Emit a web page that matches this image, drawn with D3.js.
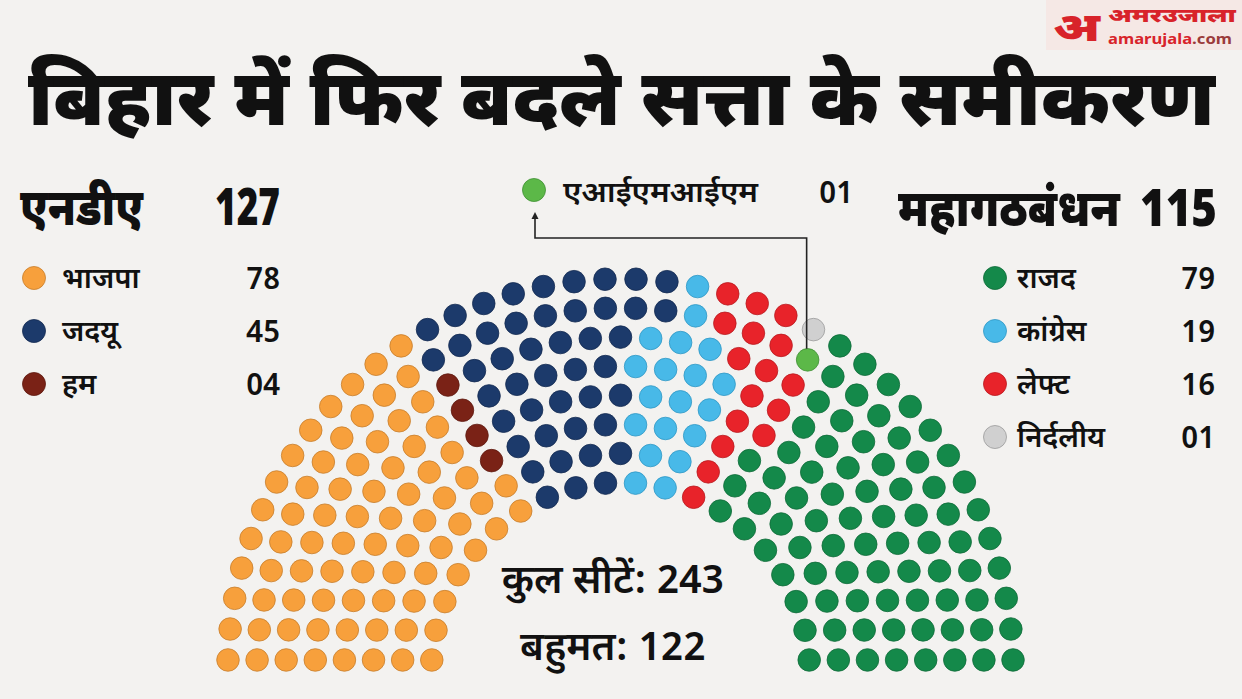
<!DOCTYPE html>
<html><head><meta charset="utf-8">
<script src="https://cdn.jsdelivr.net/npm/d3@7/dist/d3.min.js"></script>
<style>
html,body{margin:0;padding:0;background:#f3f2f0;}
svg{display:block;}
text{font-family:"Noto Sans Devanagari","Noto Sans",sans-serif;fill:#111;}
</style></head>
<body>
<svg id="chart" width="1242" height="699"></svg>
<script>
// ---------- DATA ----------
const partyNames  = ["भाजपा","हम","जदयू","कांग्रेस","लेफ्ट","निर्दलीय","एआईएमआईएम","राजद"];
const partySeats  = [78, 4, 45, 19, 16, 1, 1, 79];
const partyColors = ["#f7a03c","#7a2216","#1c3a6b","#48b9e8","#e8232a","#d0d0d0","#5cb848","#14894a"];
const partyStroke = ["#c77e2c","#5e190f","#132a50","#2e97c4","#b81a1f","#9a9a9a","#3f8f33","#0f6b39"];

// seats of each party in each arc row (row 1 = innermost ... row 8 = outermost)
const rowsBJP   = [7, 8, 8, 9, 10, 11, 12, 13];
const rowsHAM   = [0, 0, 1, 1, 1, 1, 0, 0];
const rowsJDU   = [3, 4, 4, 5, 5, 6, 9, 9];
const rowsINC   = [2, 2, 3, 3, 4, 3, 1, 1];
const rowsLEFT  = [1, 1, 1, 2, 2, 3, 3, 3];
const rowsIND   = [0, 0, 0, 0, 0, 0, 0, 1];
const rowsAIMIM = [0, 0, 0, 0, 0, 0, 1, 0];
const rowsRJD   = [7, 8, 9, 9, 10, 11, 12, 13];

const ndaLabel = "एनडीए",       ndaTotal = "127";
const ndaParties = ["भाजपा","जदयू","हम"];
const ndaValues  = ["78","45","04"];
const mgbLabel = "महागठबंधन",   mgbTotal = "115";
const mgbParties = ["राजद","कांग्रेस","लेफ्ट","निर्दलीय"];
const mgbValues  = ["79","19","16","01"];
const aimimParty = "एआईएमआईएम", aimimValue = "01";

const titleText = "बिहार में फिर बदले सत्ता के समीकरण";
const totalText = "कुल सीटें: 243";
const majorityText = "बहुमत: 122";

// ---------- SETUP ----------
const svg = d3.select("#chart");
svg.append("rect").attr("width",1242).attr("height",699).attr("fill","#f3f2f0");

const color  = d3.scaleOrdinal().domain(partyNames).range(partyColors);
const stroke = d3.scaleOrdinal().domain(partyNames).range(partyStroke);

// text fitted horizontally to a measured width (scaled, so its box stays true)
function fitText(parent, str, x, y, size, weight, width, anchor, fill){
  const t = parent.append("text").attr("font-size",size).attr("font-weight",weight).text(str);
  if(fill) t.style("fill",fill);
  const w = t.node().getComputedTextLength();
  const sx = width / w;
  const x0 = anchor==="end" ? x - width : x;
  t.attr("transform",`translate(${x0},${y}) scale(${sx},1)`);
  return t;
}

// ---------- PARLIAMENT LAYOUT ----------
const rowTable = [rowsBJP,rowsHAM,rowsJDU,rowsINC,rowsLEFT,rowsIND,rowsAIMIM,rowsRJD];
const nRows = rowsBJP.length;
const seatR = 0.4/nRows;
const pos = [];
for(let i=1;i<=nRows;i++){
  const R = (3*nRows+4*i-2)/(4*nRows);
  const counts = rowTable.map(a=>a[i-1]);
  const J = d3.sum(counts);
  const row = [];
  for(let j=0;j<J;j++){
    const a = j*(Math.PI-2*Math.sin(seatR/R))/(J-1)+Math.sin(seatR/R);
    row.push({a, x:R*Math.cos(a)+1.75, y:R*Math.sin(a), row:i});
  }
  row.sort((p,q)=>q.a-p.a); // left to right
  let k=0;
  counts.forEach((c,pi)=>{for(let n=0;n<c;n++) row[k++].party=partyNames[pi];});
  pos.push(...row);
}

const S = 232.7, CX = 620.5, CY = 671.6;
const xs = d3.scaleLinear().domain([0,3.5]).range([CX-1.75*S, CX+1.75*S]);
const ys = d3.scaleLinear().domain([0,1.75]).range([CY, CY-1.75*S]);
const rs = d3.scaleLinear().domain([0,1]).range([0,S]);

svg.append("g").selectAll("circle").data(pos).join("circle")
  .attr("cx",d=>xs(d.x)).attr("cy",d=>ys(d.y)).attr("r",rs(seatR)*0.97)
  .attr("fill",d=>color(d.party)).attr("stroke",d=>stroke(d.party)).attr("stroke-width",0.8);

// ---------- TITLE ----------
fitText(svg, titleText, 28, 125, 78, 900, 1187, "start");

// ---------- LOGO ----------
svg.append("rect").attr("x",1046).attr("y",0).attr("width",196).attr("height",50).attr("fill","#f5e8e5");
fitText(svg, "अ", 1053, 41, 40, 900, 47, "start", "#d8232a");
fitText(svg, "अमरउजाला", 1108, 22, 19, 900, 128, "start", "#d8232a");
const lt = svg.append("text").attr("x",1108).attr("y",44).attr("font-size",15).attr("font-weight",700)
  .attr("textLength",124).attr("lengthAdjust","spacingAndGlyphs");
lt.append("tspan").text("amarujala").style("fill","#d8232a");
lt.append("tspan").text(".com").style("fill","#9b3b3b");

// ---------- LEFT LEGEND ----------
fitText(svg, ndaLabel, 20, 225, 52, 900, 123, "start");
fitText(svg, ndaTotal, 280, 225, 52, 900, 65, "end");
const rowY = [278,331,384,437];
const lg = svg.append("g");
ndaParties.forEach((p,i)=>{
  lg.append("circle").attr("cx",34).attr("cy",rowY[i]).attr("r",11.5).attr("fill",color(p)).attr("stroke",stroke(p)).attr("stroke-width",0.8);
  lg.append("text").attr("x",62).attr("y",rowY[i]+10).text(p).attr("font-size",29).attr("font-weight",600);
  lg.append("text").attr("x",280).attr("y",rowY[i]+11).attr("text-anchor","end").text(ndaValues[i]).attr("font-size",30).attr("font-weight",600);
});

// ---------- RIGHT LEGEND ----------
fitText(svg, mgbLabel, 898, 226, 52, 900, 222, "start");
fitText(svg, mgbTotal, 1217, 226, 52, 900, 77, "end");
mgbParties.forEach((p,i)=>{
  lg.append("circle").attr("cx",995).attr("cy",rowY[i]).attr("r",11.5).attr("fill",color(p)).attr("stroke",stroke(p)).attr("stroke-width",0.8);
  lg.append("text").attr("x",1017).attr("y",rowY[i]+10).text(p).attr("font-size",29).attr("font-weight",600);
  lg.append("text").attr("x",1215).attr("y",rowY[i]+11).attr("text-anchor","end").text(mgbValues[i]).attr("font-size",30).attr("font-weight",600);
});

// ---------- AIMIM CALLOUT ----------
const aimSeat = pos.find(d=>d.party===aimimParty);
const ax = xs(aimSeat.x), ay = ys(aimSeat.y);
svg.append("circle").attr("cx",534).attr("cy",190).attr("r",11.5).attr("fill",color(aimimParty)).attr("stroke",stroke(aimimParty)).attr("stroke-width",0.8);
fitText(svg, aimimParty, 563, 202, 29, 600, 195, "start");
svg.append("text").attr("x",853).attr("y",203).attr("text-anchor","end").text(aimimValue).attr("font-size",30).attr("font-weight",600);
svg.append("path")
  .attr("d",`M${ax-1},${ay-11} L${ax-1},238 L535,238 L535,218`)
  .attr("fill","none").attr("stroke","#222").attr("stroke-width",1.6);
svg.append("path").attr("d","M535,212 L531.5,219 L538.5,219 Z").attr("fill","#222");

// ---------- CENTER TEXT ----------
svg.append("text").attr("x",613).attr("y",593).attr("text-anchor","middle").text(totalText).attr("font-size",40).attr("font-weight",600);
svg.append("text").attr("x",613).attr("y",660).attr("text-anchor","middle").text(majorityText).attr("font-size",40).attr("font-weight",600);
</script>
</body></html>
